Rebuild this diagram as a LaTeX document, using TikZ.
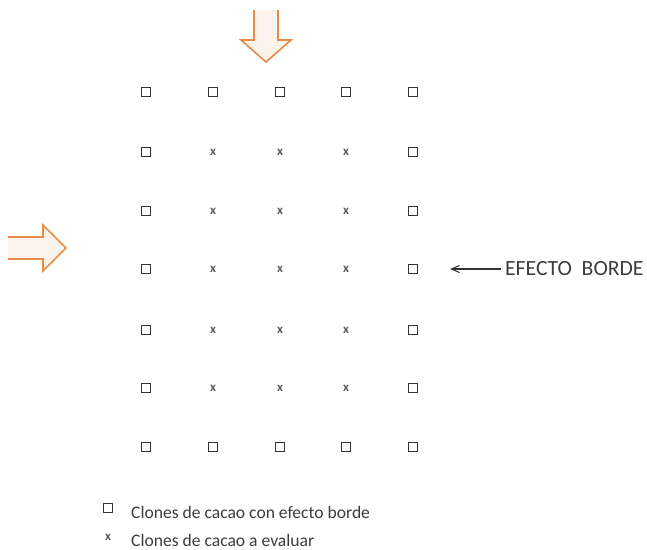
\documentclass[tikz,border=0pt]{standalone}
\usepackage{fontspec}
\setmainfont{Carlito}
\usepackage{xcolor}
\usepackage{tikz}
\usetikzlibrary{arrows.meta,positioning,calc}

\definecolor{flecha}{RGB}{230,140,70}
\definecolor{texto}{RGB}{60,60,60}

\begin{document}
\begin{tikzpicture}[x=0.03cm,y=-0.03cm,
    borde/.style={draw=black!80,line width=0.9pt,minimum size=0.28cm,inner sep=0pt},
    clon/.style={inner sep=0pt,minimum size=0.2cm,font=\fontsize{11}{11}\selectfont\bfseries,text=black!65},
    bloque/.style={draw=flecha,line width=1.4pt,fill=flecha!10,line join=miter}]
    \useasboundingbox (0,0) rectangle (647,549);
    % flechas de entrada
    \draw[bloque] (254,10) -- (254,40) -- (241,40) -- (266,62) -- (291,40) -- (278,40) -- (278,10);
    \draw[bloque] (8,237) -- (43,237) -- (43,225) -- (66,248) -- (43,271) -- (43,259) -- (8,259);
    % parcela
    \foreach \c/\x in {1/146,2/213,3/280,4/346,5/413}{
        \foreach \f/\y in {1/92,2/152,3/211,4/269,5/330,6/388,7/447}{
            \ifnum\c=1 \node[borde] (p-\c-\f) at (\x,\y) {};
            \else\ifnum\c=5 \node[borde] (p-\c-\f) at (\x,\y) {};
            \else\ifnum\f=1 \node[borde] (p-\c-\f) at (\x,\y) {};
            \else\ifnum\f=7 \node[borde] (p-\c-\f) at (\x,\y) {};
            \else \node[clon] (p-\c-\f) at (\x,\y) {x};
            \fi\fi\fi\fi
        }
    }
    \node[anchor=west,text=texto,font=\fontsize{18.5}{20}\selectfont] (efecto) at (501,269) {EFECTO\ \ BORDE};
    \coordinate (punta) at (450,269);
    \draw[-{Straight Barb[length=7pt,width=6pt]},line width=0.9pt,black!80] (efecto.west) -- (punta);
    % leyenda
    \node[borde] (ley1) at (108,508) {};
    \node[anchor=west,text=texto,font=\fontsize{15}{17}\selectfont] (t1) at (127,512) {Clones de cacao con efecto borde};
    \node[clon] (ley2) at (108,537) {x};
    \node[anchor=west,text=texto,font=\fontsize{15}{17}\selectfont] (t2) at (127,540) {Clones de cacao a evaluar};
\end{tikzpicture}
\end{document}
